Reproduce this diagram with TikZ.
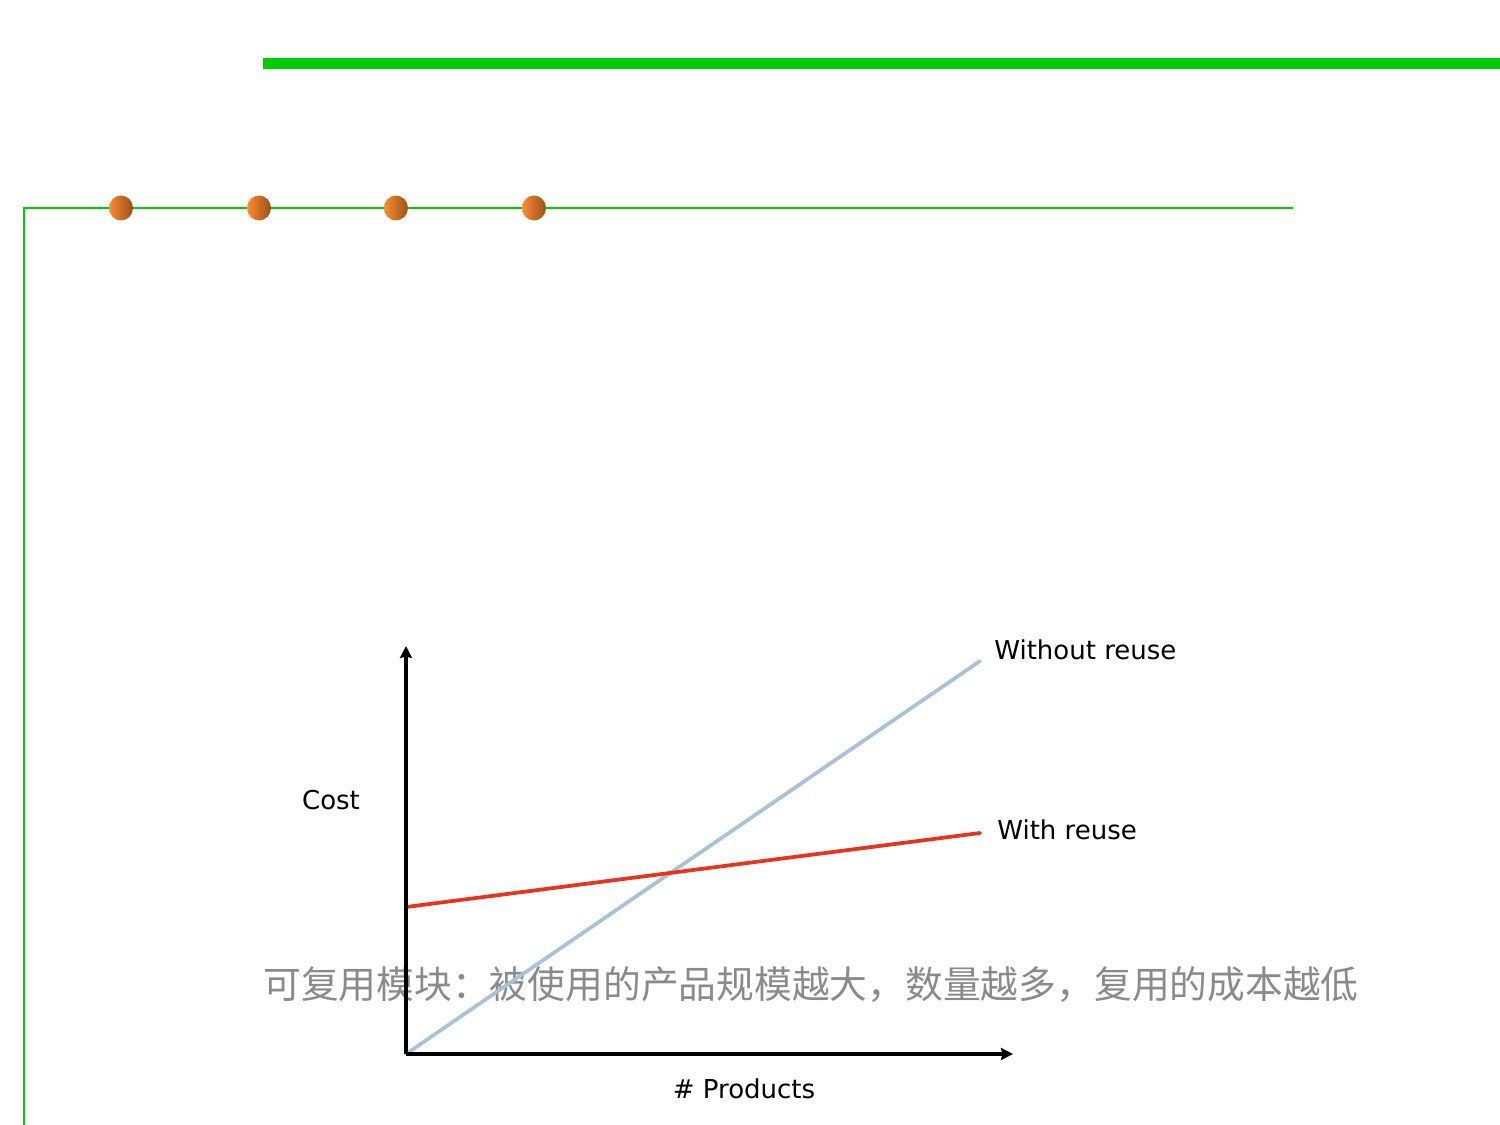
\documentclass[tikz,border=0pt]{standalone}
\usepackage{fontspec}
\setmainfont{DejaVu Sans}
\newfontfamily\cjk{Noto Sans CJK SC}
\usepackage{xcolor}
\usepackage{tikz}
\usetikzlibrary{arrows.meta, positioning}

\definecolor{barGreen}{HTML}{00CC00}
\definecolor{dotLight}{HTML}{FA8C32}
\definecolor{dotDark}{HTML}{9E4E1C}
\definecolor{noReuse}{HTML}{A9C2D8}
\definecolor{withReuse}{HTML}{E8341E}
\definecolor{noteGray}{HTML}{8A8A8A}

\begin{document}
\begin{tikzpicture}[x=0.02cm, y=-0.02cm,
    lbl/.style={font=\fontsize{14.8}{17}\selectfont, inner sep=0pt},
    note/.style={font=\cjk\fontsize{21.5}{25}\selectfont, text=noteGray, inner sep=0pt},
    axis/.style={line width=0.075cm, ->, >={Stealth[length=0.24cm, width=0.24cm, inset=0.03cm]}},
    curve/.style={line width=0.075cm, line cap=round}]

    \useasboundingbox (0,0) rectangle (1500,1125);

    % frame lines
    \draw [barGreen, line width=0.22cm] (263,63.5) -- (1500,63.5);
    \draw [barGreen, line width=0.04cm] (24,1125) -- (24,208) -- (1293,208);
    \foreach \x in {121,259,396,534}
        \shade [left color=dotLight, right color=dotDark] (\x,208) ellipse (12 and 12.5);

    % note text, behind the chart
    \node [note] (note) at (811,985) {可复用模块：被使用的产品规模越大，数量越多，复用的成本越低};

    % chart
    \coordinate (origin) at (406,1054);
    \coordinate (ytop) at (406,646);
    \coordinate (xend) at (1013,1054);
    \coordinate (rstart) at (406,907);
    \coordinate (noreuse) at (980,661);
    \coordinate (reuse) at (980,833);

    \draw [curve, noReuse] (origin) -- (noreuse);
    \draw [curve, withReuse] (rstart) -- (reuse);
    \draw [axis] (origin) -- (ytop);
    \draw [axis] (origin) -- (xend);

    \node [lbl, anchor=west] (lnoreuse) at (994,650) {Without reuse};
    \node [lbl, anchor=west] (lreuse) at (997,830) {With reuse};
    \node [lbl] (cost) at (331,800) {Cost};
    \node [lbl] (products) at (744,1089) {\# Products};
\end{tikzpicture}
\end{document}
